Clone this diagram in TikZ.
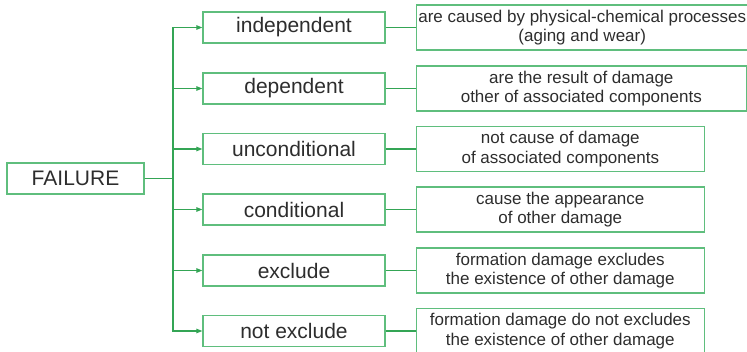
\documentclass[tikz,border=0pt]{standalone}
\usepackage{fontspec}
\setmainfont{Liberation Sans}
\usepackage{xcolor}
\usetikzlibrary{arrows.meta, positioning}

\definecolor{linegreen}{RGB}{52,165,85}
\definecolor{boxgreen}{RGB}{95,190,125}
\definecolor{txtgray}{RGB}{45,45,45}

\begin{document}
\begin{tikzpicture}[
    x=1pt, y=-1pt,
    root/.style={draw=boxgreen, line width=1.3pt, minimum width=137pt,
                 minimum height=31pt, inner sep=2pt, text=txtgray,
                 font=\fontsize{21}{25}\selectfont},
    kind/.style={draw=boxgreen, line width=1.3pt, minimum width=182pt,
                 minimum height=31pt, inner sep=2pt, text=txtgray,
                 font=\fontsize{21}{25}\selectfont},
    note/.style={draw=boxgreen, line width=1.3pt, minimum width=288pt,
                 minimum height=45pt, inner sep=2pt, align=center, text=txtgray,
                 font=\fontsize{17}{19.5}\selectfont},
    wide/.style={minimum width=330pt},
    arr/.style={-{Triangle[length=6pt,width=4.5pt]}, linegreen, line width=1.1pt},
    lnk/.style={linegreen, line width=1.1pt},
    node distance=30pt
]
\useasboundingbox (0,0) rectangle (747,351);

\node[root] (fail) at (75.5,178.5) {FAILURE};
\coordinate (trunk) at (173,178.5);

\node[kind] (k1) at (294,27.5) {independent};
\node[kind] (k2) at (294,88.5) {dependent};
\node[kind] (k3) at (294,149) {unconditional};
\node[kind] (k4) at (294,209.5) {conditional};
\node[kind] (k5) at (294,270.5) {exclude};
\node[kind] (k6) at (294,331) {not exclude};

\node[note, wide, right=of k1] (n1)
    {are caused by physical-chemical processes\\(aging and wear)};
\node[note, wide, right=of k2] (n2)
    {are the result of damage\\other of associated components};
\node[note, right=of k3] (n3)
    {not cause of damage\\of associated components};
\node[note, right=of k4] (n4)
    {cause the appearance\\of other damage};
\node[note, right=of k5] (n5)
    {formation damage excludes\\the existence of other damage};
\node[note, right=of k6] (n6)
    {formation damage do not excludes\\the existence of other damage};

\foreach \k in {k1,k2,k3,k4,k5,k6}
    \draw[arr] (fail.east) -- (trunk) |- (\k.west);
\foreach \k/\n in {k1/n1,k2/n2,k3/n3,k4/n4,k5/n5,k6/n6}
    \draw[lnk] (\k.east) -- (\n.west);
\end{tikzpicture}
\end{document}
